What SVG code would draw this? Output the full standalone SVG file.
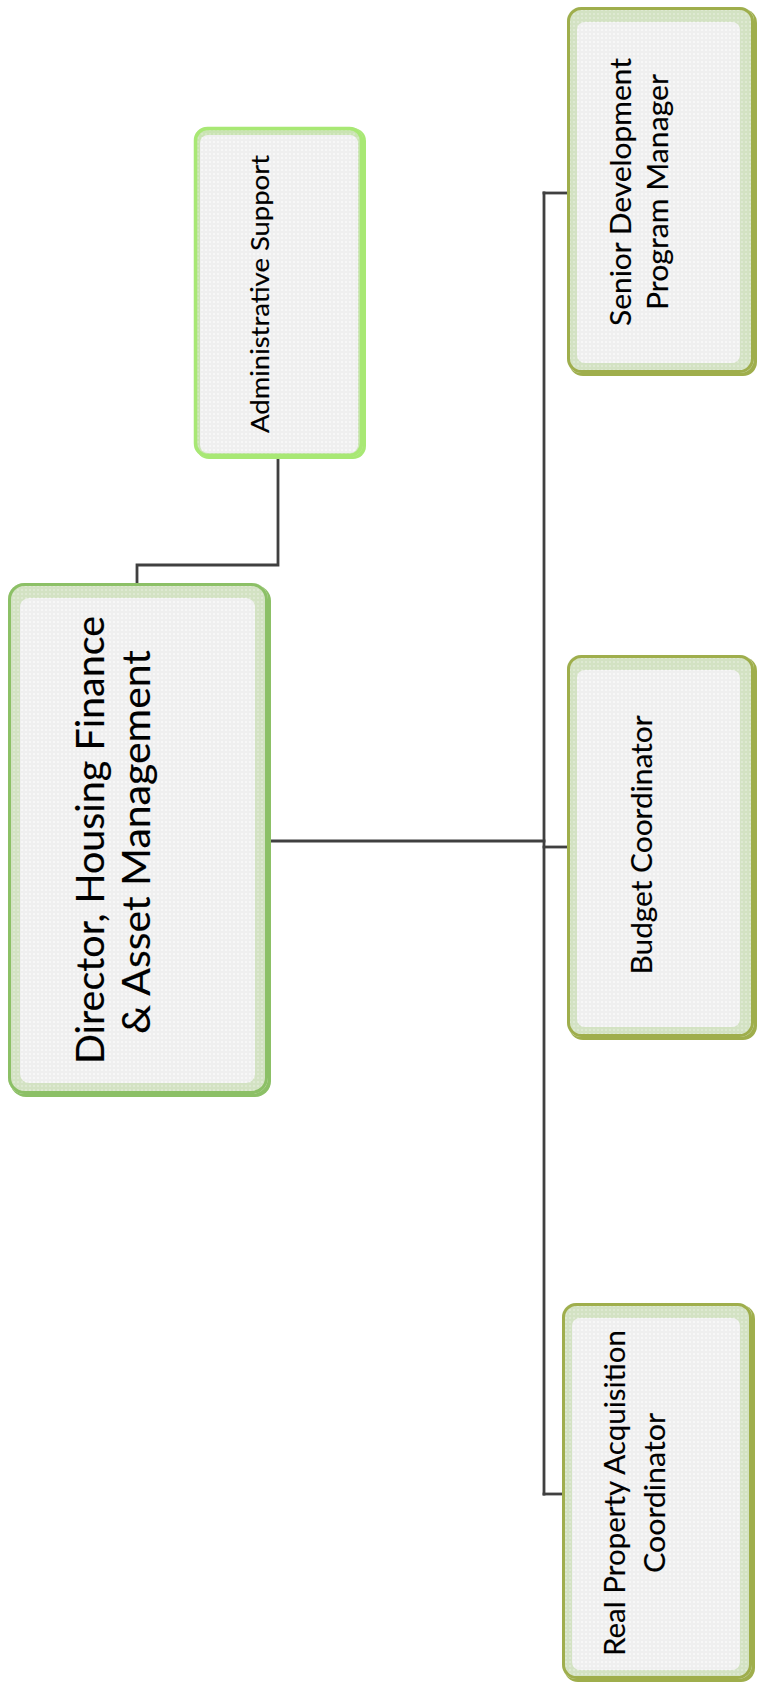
<svg xmlns="http://www.w3.org/2000/svg" width="757" height="1682" viewBox="0 0 757 1682">
  <defs>
    <!-- fine white dot texture used inside every card -->
    <pattern id="dots" width="4" height="4" patternUnits="userSpaceOnUse">
      <rect width="4" height="4" fill="#efefef"/>
      <circle cx="2" cy="2" r="1" fill="#fafafa"/>
    </pattern>
    <pattern id="bandDots" width="4" height="4" patternUnits="userSpaceOnUse">
      <rect width="4" height="4" fill="#d3e2c3"/>
      <circle cx="2" cy="2" r="1" fill="#e2ecd7"/>
    </pattern>
    <style>
      .lbl { font-family: "Lato", "Carlito", "Open Sans", sans-serif; fill: #000; stroke: #000; stroke-width: 0.15; text-anchor: middle; }
      .inner { fill: url(#dots); }
      .band { fill: url(#bandDots); }
      .edge-green { fill: none; stroke: #8cc066; stroke-width: 3; }
      .edge-lime { fill: none; stroke: #a8e874; stroke-width: 3.5; }
      .edge-olive { fill: none; stroke: #9fae4c; stroke-width: 3; }
      .shade-green { fill: #8cc066; }
      .shade-lime { fill: #a8e874; }
      .shade-olive { fill: #9fae4c; }
      .wire { fill: none; stroke: #404040; stroke-width: 2.8; stroke-linecap: square; }
    </style>
  </defs>

  <!-- reporting lines -->
  <g id="connectors">
    <polyline class="wire" points="278,458 278,565 137,565 137,587"/>
    <line class="wire" x1="263" y1="841" x2="544" y2="841"/>
    <line class="wire" x1="544" y1="193" x2="544" y2="1494"/>
    <line class="wire" x1="544" y1="193" x2="568" y2="193"/>
    <line class="wire" x1="544" y1="847" x2="568" y2="847"/>
    <line class="wire" x1="544" y1="1494" x2="564" y2="1494"/>
  </g>

  <!-- Director -->
  <g id="director">
    <rect class="shade-green" x="10" y="585" width="261" height="512" rx="16"/>
    <rect class="band" x="8" y="583" width="260" height="511" rx="16"/>
    <rect class="edge-green" x="9.5" y="584.5" width="257" height="508" rx="15"/>
    <rect class="inner" x="20" y="598" width="235" height="485" rx="9"/>
    <text class="lbl" font-size="39" textLength="448" lengthAdjust="spacingAndGlyphs" transform="translate(104,840) rotate(-90)">Director, Housing Finance</text>
    <text class="lbl" font-size="39" textLength="384" lengthAdjust="spacingAndGlyphs" transform="translate(150,842) rotate(-90)">&amp; Asset Management</text>
  </g>

  <!-- Administrative Support -->
  <g id="admin-support">
    <rect class="shade-lime" x="196" y="128" width="170" height="331" rx="13"/>
    <rect class="band" x="194" y="127" width="169" height="330" rx="13" fill-opacity="0.8"/>
    <rect class="edge-lime" x="195.5" y="128.5" width="166" height="327" rx="12"/>
    <rect class="inner" x="200" y="135" width="158" height="318" rx="8"/>
    <text class="lbl" font-size="25" textLength="278" lengthAdjust="spacingAndGlyphs" transform="translate(269,294) rotate(-90)">Administrative Support</text>
  </g>

  <!-- Senior Development Program Manager -->
  <g id="senior-dev">
    <rect class="shade-olive" x="569" y="9" width="188" height="367" rx="14"/>
    <rect class="band" x="567" y="7" width="187" height="366" rx="14"/>
    <rect class="edge-olive" x="568.5" y="8.5" width="184" height="363" rx="13"/>
    <rect class="inner" x="577" y="22" width="163" height="341" rx="8"/>
    <text class="lbl" font-size="29" textLength="268" lengthAdjust="spacingAndGlyphs" transform="translate(631,192) rotate(-90)">Senior Development</text>
    <text class="lbl" font-size="29" textLength="236" lengthAdjust="spacingAndGlyphs" transform="translate(668,192) rotate(-90)">Program Manager</text>
  </g>

  <!-- Budget Coordinator -->
  <g id="budget">
    <rect class="shade-olive" x="569" y="657" width="188" height="383" rx="14"/>
    <rect class="band" x="567" y="655" width="187" height="382" rx="14"/>
    <rect class="edge-olive" x="568.5" y="656.5" width="184" height="379" rx="13"/>
    <rect class="inner" x="577" y="670" width="163" height="357" rx="8"/>
    <text class="lbl" font-size="29" textLength="259" lengthAdjust="spacingAndGlyphs" transform="translate(652,845) rotate(-90)">Budget Coordinator</text>
  </g>

  <!-- Real Property Acquisition Coordinator -->
  <g id="real-property">
    <rect class="shade-olive" x="564" y="1305" width="191" height="377" rx="14"/>
    <rect class="band" x="562" y="1303" width="190" height="376" rx="14"/>
    <rect class="edge-olive" x="563.5" y="1304.5" width="187" height="373" rx="13"/>
    <rect class="inner" x="572" y="1318" width="168" height="352" rx="8"/>
    <text class="lbl" font-size="29" textLength="326" lengthAdjust="spacingAndGlyphs" transform="translate(625,1493) rotate(-90)">Real Property Acquisition</text>
    <text class="lbl" font-size="29" textLength="160" lengthAdjust="spacingAndGlyphs" transform="translate(665,1493) rotate(-90)">Coordinator</text>
  </g>
</svg>
